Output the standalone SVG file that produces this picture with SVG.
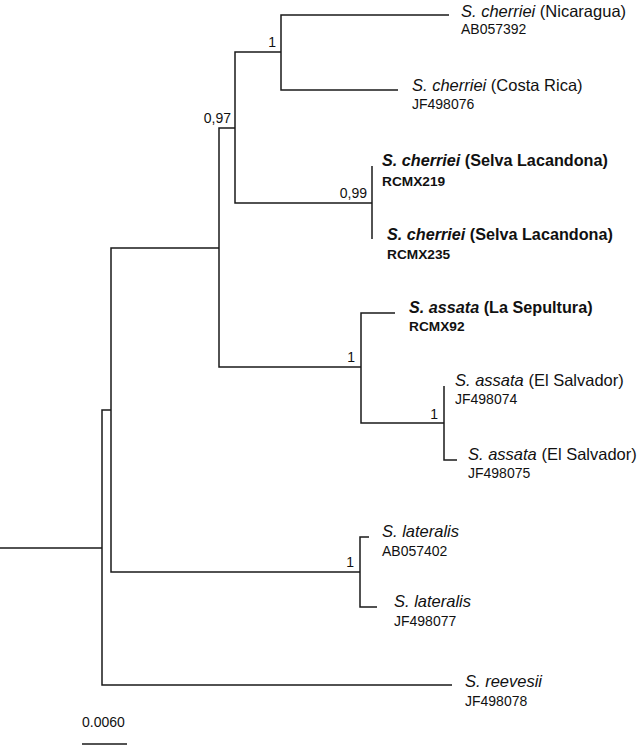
<svg xmlns="http://www.w3.org/2000/svg" width="638" height="746" viewBox="0 0 638 746">
<style>
.br{fill:none;stroke:#1a1a1a;stroke-width:1.5}
.sp{font-family:"Liberation Sans",Arial,sans-serif;font-size:16.5px;fill:#111}
.spb{font-family:"Liberation Sans",Arial,sans-serif;font-size:16.2px;font-weight:bold;fill:#111}
.ac{font-family:"Liberation Sans",Arial,sans-serif;font-size:14px;fill:#111}
.acb{font-family:"Liberation Sans",Arial,sans-serif;font-size:13.7px;font-weight:bold;fill:#111}
.sup{font-family:"Liberation Sans",Arial,sans-serif;font-size:14px;fill:#111;text-anchor:end}
.it{font-style:italic}
</style>
<rect width="638" height="746" fill="#fff"/>
<g id="connectors">
<path class="br" d="M0 548H102"/>
<path class="br" d="M111 410H102V685H452"/>
<path class="br" d="M219 248H111V572H360"/>
<path class="br" d="M235 128H219V367H361"/>
<path class="br" d="M281 52H235V203H372"/>
<path class="br" d="M449 15H281V90H398"/>
<path class="br" d="M372 166V239"/>
<path class="br" d="M395 313H361V423H444"/>
<path class="br" d="M444 386V460H457"/>
<path class="br" d="M369 537H360V607H377"/>
</g>
<g id="support-labels">
<text class="sup" x="276" y="47">1</text>
<text class="sup" x="231" y="123">0,97</text>
<text class="sup" x="367" y="198">0,99</text>
<text class="sup" x="355" y="362">1</text>
<text class="sup" x="438" y="419">1</text>
<text class="sup" x="354" y="567">1</text>
</g>
<g id="leaf-AB057392">
<text class="sp" x="461" y="17"><tspan class="it">S. cherriei</tspan> (Nicaragua)</text>
<text class="ac" x="461" y="34">AB057392</text>
</g>
<g id="leaf-JF498076">
<text class="sp" x="412" y="91"><tspan class="it">S. cherriei</tspan> (Costa Rica)</text>
<text class="ac" x="412" y="109">JF498076</text>
</g>
<g id="leaf-RCMX219">
<text class="spb" x="382" y="166"><tspan class="it">S. cherriei</tspan> (Selva Lacandona)</text>
<text class="acb" x="382" y="186">RCMX219</text>
</g>
<g id="leaf-RCMX235">
<text class="spb" x="387" y="240"><tspan class="it">S. cherriei</tspan> (Selva Lacandona)</text>
<text class="acb" x="387" y="259">RCMX235</text>
</g>
<g id="leaf-RCMX92">
<text class="spb" x="409" y="313"><tspan class="it">S. assata</tspan> (La Sepultura)</text>
<text class="acb" x="409" y="331">RCMX92</text>
</g>
<g id="leaf-JF498074">
<text class="sp" x="455" y="386"><tspan class="it">S. assata</tspan> (El Salvador)</text>
<text class="ac" x="455" y="404">JF498074</text>
</g>
<g id="leaf-JF498075">
<text class="sp" x="468" y="460"><tspan class="it">S. assata</tspan> (El Salvador)</text>
<text class="ac" x="468" y="478">JF498075</text>
</g>
<g id="leaf-AB057402">
<text class="sp" x="382" y="537"><tspan class="it">S. lateralis</tspan></text>
<text class="ac" x="382" y="556">AB057402</text>
</g>
<g id="leaf-JF498077">
<text class="sp" x="394" y="607"><tspan class="it">S. lateralis</tspan></text>
<text class="ac" x="394" y="626">JF498077</text>
</g>
<g id="leaf-JF498078">
<text class="sp" x="465" y="687"><tspan class="it">S. reevesii</tspan></text>
<text class="ac" x="465" y="706">JF498078</text>
</g>
<g id="scale-bar">
<text class="ac" x="82" y="727">0.0060</text>
<path class="br" d="M82 744H127"/>
</g>
</svg>
